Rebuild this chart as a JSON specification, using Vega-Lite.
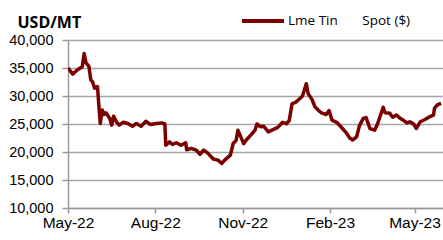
{
  "$schema": "https://vega.github.io/schema/vega-lite/v6.json",
  "width": 375,
  "height": 168,
  "autosize": {"type": "none"},
  "padding": {"left": 68, "top": 40, "right": 0, "bottom": 32},
  "background": "white",
  "config": {"view": {"stroke": null}},
  "data": {
    "values": [
      {"date": "2022-05-01", "price": 35000, "series": "Lme Tin\u00a0\u00a0\u00a0\u00a0\u00a0\u00a0\u00a0Spot ($)"},
      {"date": "2022-05-06", "price": 33900, "series": "Lme Tin\u00a0\u00a0\u00a0\u00a0\u00a0\u00a0\u00a0Spot ($)"},
      {"date": "2022-05-11", "price": 34700, "series": "Lme Tin\u00a0\u00a0\u00a0\u00a0\u00a0\u00a0\u00a0Spot ($)"},
      {"date": "2022-05-16", "price": 35200, "series": "Lme Tin\u00a0\u00a0\u00a0\u00a0\u00a0\u00a0\u00a0Spot ($)"},
      {"date": "2022-05-18", "price": 37600, "series": "Lme Tin\u00a0\u00a0\u00a0\u00a0\u00a0\u00a0\u00a0Spot ($)"},
      {"date": "2022-05-20", "price": 35900, "series": "Lme Tin\u00a0\u00a0\u00a0\u00a0\u00a0\u00a0\u00a0Spot ($)"},
      {"date": "2022-05-23", "price": 35300, "series": "Lme Tin\u00a0\u00a0\u00a0\u00a0\u00a0\u00a0\u00a0Spot ($)"},
      {"date": "2022-05-25", "price": 32900, "series": "Lme Tin\u00a0\u00a0\u00a0\u00a0\u00a0\u00a0\u00a0Spot ($)"},
      {"date": "2022-05-27", "price": 32500, "series": "Lme Tin\u00a0\u00a0\u00a0\u00a0\u00a0\u00a0\u00a0Spot ($)"},
      {"date": "2022-05-29", "price": 31400, "series": "Lme Tin\u00a0\u00a0\u00a0\u00a0\u00a0\u00a0\u00a0Spot ($)"},
      {"date": "2022-06-01", "price": 31700, "series": "Lme Tin\u00a0\u00a0\u00a0\u00a0\u00a0\u00a0\u00a0Spot ($)"},
      {"date": "2022-06-03", "price": 27200, "series": "Lme Tin\u00a0\u00a0\u00a0\u00a0\u00a0\u00a0\u00a0Spot ($)"},
      {"date": "2022-06-04", "price": 25100, "series": "Lme Tin\u00a0\u00a0\u00a0\u00a0\u00a0\u00a0\u00a0Spot ($)"},
      {"date": "2022-06-06", "price": 27500, "series": "Lme Tin\u00a0\u00a0\u00a0\u00a0\u00a0\u00a0\u00a0Spot ($)"},
      {"date": "2022-06-08", "price": 26700, "series": "Lme Tin\u00a0\u00a0\u00a0\u00a0\u00a0\u00a0\u00a0Spot ($)"},
      {"date": "2022-06-10", "price": 27000, "series": "Lme Tin\u00a0\u00a0\u00a0\u00a0\u00a0\u00a0\u00a0Spot ($)"},
      {"date": "2022-06-14", "price": 26000, "series": "Lme Tin\u00a0\u00a0\u00a0\u00a0\u00a0\u00a0\u00a0Spot ($)"},
      {"date": "2022-06-16", "price": 24800, "series": "Lme Tin\u00a0\u00a0\u00a0\u00a0\u00a0\u00a0\u00a0Spot ($)"},
      {"date": "2022-06-18", "price": 26400, "series": "Lme Tin\u00a0\u00a0\u00a0\u00a0\u00a0\u00a0\u00a0Spot ($)"},
      {"date": "2022-06-21", "price": 25400, "series": "Lme Tin\u00a0\u00a0\u00a0\u00a0\u00a0\u00a0\u00a0Spot ($)"},
      {"date": "2022-06-24", "price": 24800, "series": "Lme Tin\u00a0\u00a0\u00a0\u00a0\u00a0\u00a0\u00a0Spot ($)"},
      {"date": "2022-06-28", "price": 25300, "series": "Lme Tin\u00a0\u00a0\u00a0\u00a0\u00a0\u00a0\u00a0Spot ($)"},
      {"date": "2022-07-03", "price": 25100, "series": "Lme Tin\u00a0\u00a0\u00a0\u00a0\u00a0\u00a0\u00a0Spot ($)"},
      {"date": "2022-07-08", "price": 24600, "series": "Lme Tin\u00a0\u00a0\u00a0\u00a0\u00a0\u00a0\u00a0Spot ($)"},
      {"date": "2022-07-12", "price": 25100, "series": "Lme Tin\u00a0\u00a0\u00a0\u00a0\u00a0\u00a0\u00a0Spot ($)"},
      {"date": "2022-07-17", "price": 24600, "series": "Lme Tin\u00a0\u00a0\u00a0\u00a0\u00a0\u00a0\u00a0Spot ($)"},
      {"date": "2022-07-22", "price": 25500, "series": "Lme Tin\u00a0\u00a0\u00a0\u00a0\u00a0\u00a0\u00a0Spot ($)"},
      {"date": "2022-07-27", "price": 24900, "series": "Lme Tin\u00a0\u00a0\u00a0\u00a0\u00a0\u00a0\u00a0Spot ($)"},
      {"date": "2022-08-02", "price": 25100, "series": "Lme Tin\u00a0\u00a0\u00a0\u00a0\u00a0\u00a0\u00a0Spot ($)"},
      {"date": "2022-08-08", "price": 25200, "series": "Lme Tin\u00a0\u00a0\u00a0\u00a0\u00a0\u00a0\u00a0Spot ($)"},
      {"date": "2022-08-11", "price": 25000, "series": "Lme Tin\u00a0\u00a0\u00a0\u00a0\u00a0\u00a0\u00a0Spot ($)"},
      {"date": "2022-08-12", "price": 21200, "series": "Lme Tin\u00a0\u00a0\u00a0\u00a0\u00a0\u00a0\u00a0Spot ($)"},
      {"date": "2022-08-16", "price": 21800, "series": "Lme Tin\u00a0\u00a0\u00a0\u00a0\u00a0\u00a0\u00a0Spot ($)"},
      {"date": "2022-08-19", "price": 21350, "series": "Lme Tin\u00a0\u00a0\u00a0\u00a0\u00a0\u00a0\u00a0Spot ($)"},
      {"date": "2022-08-23", "price": 21650, "series": "Lme Tin\u00a0\u00a0\u00a0\u00a0\u00a0\u00a0\u00a0Spot ($)"},
      {"date": "2022-08-28", "price": 21200, "series": "Lme Tin\u00a0\u00a0\u00a0\u00a0\u00a0\u00a0\u00a0Spot ($)"},
      {"date": "2022-09-02", "price": 21650, "series": "Lme Tin\u00a0\u00a0\u00a0\u00a0\u00a0\u00a0\u00a0Spot ($)"},
      {"date": "2022-09-03", "price": 20400, "series": "Lme Tin\u00a0\u00a0\u00a0\u00a0\u00a0\u00a0\u00a0Spot ($)"},
      {"date": "2022-09-08", "price": 20650, "series": "Lme Tin\u00a0\u00a0\u00a0\u00a0\u00a0\u00a0\u00a0Spot ($)"},
      {"date": "2022-09-13", "price": 20350, "series": "Lme Tin\u00a0\u00a0\u00a0\u00a0\u00a0\u00a0\u00a0Spot ($)"},
      {"date": "2022-09-17", "price": 19600, "series": "Lme Tin\u00a0\u00a0\u00a0\u00a0\u00a0\u00a0\u00a0Spot ($)"},
      {"date": "2022-09-21", "price": 20350, "series": "Lme Tin\u00a0\u00a0\u00a0\u00a0\u00a0\u00a0\u00a0Spot ($)"},
      {"date": "2022-09-25", "price": 19850, "series": "Lme Tin\u00a0\u00a0\u00a0\u00a0\u00a0\u00a0\u00a0Spot ($)"},
      {"date": "2022-10-01", "price": 18750, "series": "Lme Tin\u00a0\u00a0\u00a0\u00a0\u00a0\u00a0\u00a0Spot ($)"},
      {"date": "2022-10-06", "price": 18550, "series": "Lme Tin\u00a0\u00a0\u00a0\u00a0\u00a0\u00a0\u00a0Spot ($)"},
      {"date": "2022-10-10", "price": 17950, "series": "Lme Tin\u00a0\u00a0\u00a0\u00a0\u00a0\u00a0\u00a0Spot ($)"},
      {"date": "2022-10-13", "price": 18550, "series": "Lme Tin\u00a0\u00a0\u00a0\u00a0\u00a0\u00a0\u00a0Spot ($)"},
      {"date": "2022-10-16", "price": 19000, "series": "Lme Tin\u00a0\u00a0\u00a0\u00a0\u00a0\u00a0\u00a0Spot ($)"},
      {"date": "2022-10-19", "price": 19450, "series": "Lme Tin\u00a0\u00a0\u00a0\u00a0\u00a0\u00a0\u00a0Spot ($)"},
      {"date": "2022-10-22", "price": 21550, "series": "Lme Tin\u00a0\u00a0\u00a0\u00a0\u00a0\u00a0\u00a0Spot ($)"},
      {"date": "2022-10-25", "price": 22000, "series": "Lme Tin\u00a0\u00a0\u00a0\u00a0\u00a0\u00a0\u00a0Spot ($)"},
      {"date": "2022-10-27", "price": 23900, "series": "Lme Tin\u00a0\u00a0\u00a0\u00a0\u00a0\u00a0\u00a0Spot ($)"},
      {"date": "2022-10-30", "price": 22700, "series": "Lme Tin\u00a0\u00a0\u00a0\u00a0\u00a0\u00a0\u00a0Spot ($)"},
      {"date": "2022-11-02", "price": 21500, "series": "Lme Tin\u00a0\u00a0\u00a0\u00a0\u00a0\u00a0\u00a0Spot ($)"},
      {"date": "2022-11-05", "price": 22200, "series": "Lme Tin\u00a0\u00a0\u00a0\u00a0\u00a0\u00a0\u00a0Spot ($)"},
      {"date": "2022-11-10", "price": 23100, "series": "Lme Tin\u00a0\u00a0\u00a0\u00a0\u00a0\u00a0\u00a0Spot ($)"},
      {"date": "2022-11-14", "price": 23900, "series": "Lme Tin\u00a0\u00a0\u00a0\u00a0\u00a0\u00a0\u00a0Spot ($)"},
      {"date": "2022-11-16", "price": 25000, "series": "Lme Tin\u00a0\u00a0\u00a0\u00a0\u00a0\u00a0\u00a0Spot ($)"},
      {"date": "2022-11-20", "price": 24500, "series": "Lme Tin\u00a0\u00a0\u00a0\u00a0\u00a0\u00a0\u00a0Spot ($)"},
      {"date": "2022-11-23", "price": 24600, "series": "Lme Tin\u00a0\u00a0\u00a0\u00a0\u00a0\u00a0\u00a0Spot ($)"},
      {"date": "2022-11-28", "price": 23600, "series": "Lme Tin\u00a0\u00a0\u00a0\u00a0\u00a0\u00a0\u00a0Spot ($)"},
      {"date": "2022-12-03", "price": 24000, "series": "Lme Tin\u00a0\u00a0\u00a0\u00a0\u00a0\u00a0\u00a0Spot ($)"},
      {"date": "2022-12-08", "price": 24400, "series": "Lme Tin\u00a0\u00a0\u00a0\u00a0\u00a0\u00a0\u00a0Spot ($)"},
      {"date": "2022-12-13", "price": 25300, "series": "Lme Tin\u00a0\u00a0\u00a0\u00a0\u00a0\u00a0\u00a0Spot ($)"},
      {"date": "2022-12-17", "price": 25050, "series": "Lme Tin\u00a0\u00a0\u00a0\u00a0\u00a0\u00a0\u00a0Spot ($)"},
      {"date": "2022-12-20", "price": 25600, "series": "Lme Tin\u00a0\u00a0\u00a0\u00a0\u00a0\u00a0\u00a0Spot ($)"},
      {"date": "2022-12-23", "price": 28600, "series": "Lme Tin\u00a0\u00a0\u00a0\u00a0\u00a0\u00a0\u00a0Spot ($)"},
      {"date": "2022-12-27", "price": 28900, "series": "Lme Tin\u00a0\u00a0\u00a0\u00a0\u00a0\u00a0\u00a0Spot ($)"},
      {"date": "2022-12-31", "price": 29500, "series": "Lme Tin\u00a0\u00a0\u00a0\u00a0\u00a0\u00a0\u00a0Spot ($)"},
      {"date": "2023-01-03", "price": 30000, "series": "Lme Tin\u00a0\u00a0\u00a0\u00a0\u00a0\u00a0\u00a0Spot ($)"},
      {"date": "2023-01-07", "price": 32200, "series": "Lme Tin\u00a0\u00a0\u00a0\u00a0\u00a0\u00a0\u00a0Spot ($)"},
      {"date": "2023-01-09", "price": 30400, "series": "Lme Tin\u00a0\u00a0\u00a0\u00a0\u00a0\u00a0\u00a0Spot ($)"},
      {"date": "2023-01-13", "price": 29400, "series": "Lme Tin\u00a0\u00a0\u00a0\u00a0\u00a0\u00a0\u00a0Spot ($)"},
      {"date": "2023-01-16", "price": 28100, "series": "Lme Tin\u00a0\u00a0\u00a0\u00a0\u00a0\u00a0\u00a0Spot ($)"},
      {"date": "2023-01-20", "price": 27400, "series": "Lme Tin\u00a0\u00a0\u00a0\u00a0\u00a0\u00a0\u00a0Spot ($)"},
      {"date": "2023-01-23", "price": 27000, "series": "Lme Tin\u00a0\u00a0\u00a0\u00a0\u00a0\u00a0\u00a0Spot ($)"},
      {"date": "2023-01-28", "price": 26700, "series": "Lme Tin\u00a0\u00a0\u00a0\u00a0\u00a0\u00a0\u00a0Spot ($)"},
      {"date": "2023-01-31", "price": 27400, "series": "Lme Tin\u00a0\u00a0\u00a0\u00a0\u00a0\u00a0\u00a0Spot ($)"},
      {"date": "2023-02-03", "price": 25700, "series": "Lme Tin\u00a0\u00a0\u00a0\u00a0\u00a0\u00a0\u00a0Spot ($)"},
      {"date": "2023-02-08", "price": 25300, "series": "Lme Tin\u00a0\u00a0\u00a0\u00a0\u00a0\u00a0\u00a0Spot ($)"},
      {"date": "2023-02-12", "price": 24600, "series": "Lme Tin\u00a0\u00a0\u00a0\u00a0\u00a0\u00a0\u00a0Spot ($)"},
      {"date": "2023-02-17", "price": 23650, "series": "Lme Tin\u00a0\u00a0\u00a0\u00a0\u00a0\u00a0\u00a0Spot ($)"},
      {"date": "2023-02-22", "price": 22450, "series": "Lme Tin\u00a0\u00a0\u00a0\u00a0\u00a0\u00a0\u00a0Spot ($)"},
      {"date": "2023-02-25", "price": 22150, "series": "Lme Tin\u00a0\u00a0\u00a0\u00a0\u00a0\u00a0\u00a0Spot ($)"},
      {"date": "2023-03-01", "price": 22700, "series": "Lme Tin\u00a0\u00a0\u00a0\u00a0\u00a0\u00a0\u00a0Spot ($)"},
      {"date": "2023-03-04", "price": 24700, "series": "Lme Tin\u00a0\u00a0\u00a0\u00a0\u00a0\u00a0\u00a0Spot ($)"},
      {"date": "2023-03-08", "price": 26000, "series": "Lme Tin\u00a0\u00a0\u00a0\u00a0\u00a0\u00a0\u00a0Spot ($)"},
      {"date": "2023-03-11", "price": 26150, "series": "Lme Tin\u00a0\u00a0\u00a0\u00a0\u00a0\u00a0\u00a0Spot ($)"},
      {"date": "2023-03-15", "price": 24200, "series": "Lme Tin\u00a0\u00a0\u00a0\u00a0\u00a0\u00a0\u00a0Spot ($)"},
      {"date": "2023-03-20", "price": 23900, "series": "Lme Tin\u00a0\u00a0\u00a0\u00a0\u00a0\u00a0\u00a0Spot ($)"},
      {"date": "2023-03-23", "price": 25000, "series": "Lme Tin\u00a0\u00a0\u00a0\u00a0\u00a0\u00a0\u00a0Spot ($)"},
      {"date": "2023-03-29", "price": 28000, "series": "Lme Tin\u00a0\u00a0\u00a0\u00a0\u00a0\u00a0\u00a0Spot ($)"},
      {"date": "2023-03-31", "price": 27000, "series": "Lme Tin\u00a0\u00a0\u00a0\u00a0\u00a0\u00a0\u00a0Spot ($)"},
      {"date": "2023-04-05", "price": 26900, "series": "Lme Tin\u00a0\u00a0\u00a0\u00a0\u00a0\u00a0\u00a0Spot ($)"},
      {"date": "2023-04-08", "price": 26200, "series": "Lme Tin\u00a0\u00a0\u00a0\u00a0\u00a0\u00a0\u00a0Spot ($)"},
      {"date": "2023-04-12", "price": 26600, "series": "Lme Tin\u00a0\u00a0\u00a0\u00a0\u00a0\u00a0\u00a0Spot ($)"},
      {"date": "2023-04-16", "price": 26000, "series": "Lme Tin\u00a0\u00a0\u00a0\u00a0\u00a0\u00a0\u00a0Spot ($)"},
      {"date": "2023-04-19", "price": 25700, "series": "Lme Tin\u00a0\u00a0\u00a0\u00a0\u00a0\u00a0\u00a0Spot ($)"},
      {"date": "2023-04-23", "price": 25200, "series": "Lme Tin\u00a0\u00a0\u00a0\u00a0\u00a0\u00a0\u00a0Spot ($)"},
      {"date": "2023-04-26", "price": 25400, "series": "Lme Tin\u00a0\u00a0\u00a0\u00a0\u00a0\u00a0\u00a0Spot ($)"},
      {"date": "2023-04-30", "price": 25000, "series": "Lme Tin\u00a0\u00a0\u00a0\u00a0\u00a0\u00a0\u00a0Spot ($)"},
      {"date": "2023-05-03", "price": 24200, "series": "Lme Tin\u00a0\u00a0\u00a0\u00a0\u00a0\u00a0\u00a0Spot ($)"},
      {"date": "2023-05-07", "price": 25400, "series": "Lme Tin\u00a0\u00a0\u00a0\u00a0\u00a0\u00a0\u00a0Spot ($)"},
      {"date": "2023-05-12", "price": 25800, "series": "Lme Tin\u00a0\u00a0\u00a0\u00a0\u00a0\u00a0\u00a0Spot ($)"},
      {"date": "2023-05-17", "price": 26300, "series": "Lme Tin\u00a0\u00a0\u00a0\u00a0\u00a0\u00a0\u00a0Spot ($)"},
      {"date": "2023-05-21", "price": 26600, "series": "Lme Tin\u00a0\u00a0\u00a0\u00a0\u00a0\u00a0\u00a0Spot ($)"},
      {"date": "2023-05-22", "price": 27800, "series": "Lme Tin\u00a0\u00a0\u00a0\u00a0\u00a0\u00a0\u00a0Spot ($)"},
      {"date": "2023-05-25", "price": 28400, "series": "Lme Tin\u00a0\u00a0\u00a0\u00a0\u00a0\u00a0\u00a0Spot ($)"},
      {"date": "2023-05-29", "price": 28700, "series": "Lme Tin\u00a0\u00a0\u00a0\u00a0\u00a0\u00a0\u00a0Spot ($)"}
    ]
  },
  "mark": {"type": "line", "strokeWidth": 3.5, "strokeJoin": "round", "clip": true},
  "encoding": {
    "x": {
      "field": "date",
      "type": "temporal",
      "scale": {
        "type": "utc",
        "domain": [
          {"year": 2022, "month": 5, "date": 1, "utc": true},
          {"year": 2023, "month": 5, "date": 31, "utc": true}
        ]
      },
      "axis": {
        "title": null,
        "labelExpr": "utcFormat(datum.value, '%b-%y')",
        "values": [
          {"year": 2022, "month": 5, "date": 1, "utc": true},
          {"year": 2022, "month": 8, "date": 1, "utc": true},
          {"year": 2022, "month": 11, "date": 1, "utc": true},
          {"year": 2023, "month": 2, "date": 1, "utc": true},
          {"year": 2023, "month": 5, "date": 1, "utc": true}
        ],
        "grid": false,
        "domainColor": "#9a9a9a",
        "domainWidth": 1.5,
        "tickColor": "#9a9a9a",
        "tickWidth": 1.5,
        "tickSize": 5,
        "labelFont": "Liberation Sans",
        "labelFontSize": 15.5,
        "labelColor": "#000000",
        "labelPadding": 2,
        "labelFlush": false,
        "labelOverlap": false
      }
    },
    "y": {
      "field": "price",
      "type": "quantitative",
      "scale": {"domain": [10000, 40000], "nice": false, "zero": false},
      "axis": {
        "title": "USD/MT",
        "titleAngle": 0,
        "titleX": -51,
        "titleY": -13,
        "titleAlign": "left",
        "titleBaseline": "alphabetic",
        "titleFont": "Open Sans",
        "titleFontSize": 16,
        "titleFontWeight": "bold",
        "titleColor": "#000000",
        "values": [10000, 15000, 20000, 25000, 30000, 35000, 40000],
        "format": ",d",
        "grid": true,
        "gridColor": "#a6a6a6",
        "gridWidth": 1.5,
        "domainColor": "#9a9a9a",
        "domainWidth": 1.5,
        "tickColor": "#9a9a9a",
        "tickWidth": 1.5,
        "tickSize": 6,
        "labelFont": "Liberation Sans",
        "labelFontSize": 14.5,
        "labelColor": "#000000",
        "labelPadding": 9
      }
    },
    "color": {
      "field": "series",
      "type": "nominal",
      "scale": {"range": ["#7b0000"]},
      "legend": {
        "title": null,
        "orient": "none",
        "legendX": 172,
        "legendY": -42,
        "symbolType": "stroke",
        "symbolSize": 1764,
        "symbolStrokeWidth": 4,
        "labelFont": "Open Sans",
        "labelFontSize": 13.5,
        "labelColor": "#000000",
        "labelOffset": 2,
        "padding": 0
      }
    }
  }
}
